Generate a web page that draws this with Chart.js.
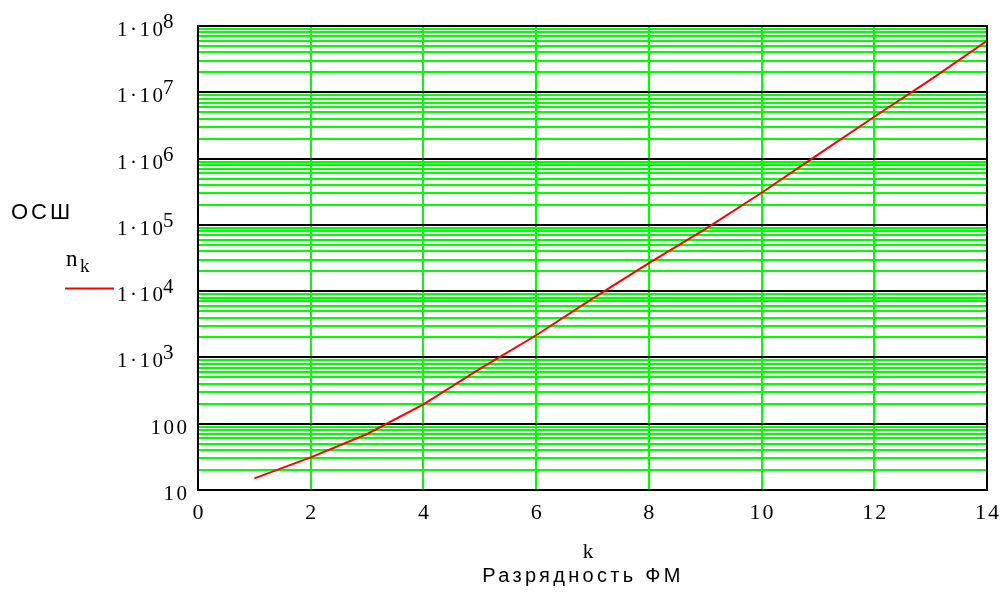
<!DOCTYPE html>
<html>
<head>
<meta charset="utf-8">
<script src="https://cdn.jsdelivr.net/npm/chart.js@4/dist/chart.umd.min.js"></script>
<style>
  body { margin: 0; background: #fff; }
  canvas { display: block; }
</style>
</head>
<body>
<canvas id="oshChart" width="1007" height="594"></canvas>
<script>
// Data
const kValues = [1, 2, 3, 4, 5, 6, 7, 8, 9, 10, 11, 12, 13, 14];
const oshValues = [15, 31, 70, 196, 670, 2160, 7700, 26400, 86000, 305000, 1150000, 4270000, 15500000, 60000000];

// Axis ticks
const xTicks = [0, 2, 4, 6, 8, 10, 12, 14];
const yDecades = [10, 100, 1e3, 1e4, 1e5, 1e6, 1e7, 1e8];
const yTickLabels = ['10', '100', '1·10^3', '1·10^4', '1·10^5', '1·10^6', '1·10^7', '1·10^8'];

const GREEN = '#00ff00';
const SERIF = '"Liberation Serif", "Times New Roman", serif';
const SANS = '"Liberation Sans", Arial, sans-serif';

// grid values: 1..9 in every decade
function buildYGrid() {
    const out = [];
    for (let i = 0; i < yDecades.length - 1; i++) {
        for (let m = 1; m < 10; m++) out.push(yDecades[i] * m);
    }
    out.push(yDecades[yDecades.length - 1]);
    return out;
}

function isDecade(v) {
    const l = Math.log10(v);
    return Math.abs(l - Math.round(l)) < 1e-9;
}

// Frame, tick labels, titles and legend in Mathcad style
const mathcadDecor = {
    id: 'mathcadDecor',
    beforeDatasetsDraw(chart) {
        const { ctx, chartArea: a } = chart;
        ctx.save();
        ctx.strokeStyle = '#000';
        ctx.lineWidth = 2;
        ctx.strokeRect(a.left, a.top, a.right - a.left, a.bottom - a.top);
        ctx.restore();
    },
    afterDraw(chart) {
        const ctx = chart.ctx;
        const xs = chart.scales.x;
        const ys = chart.scales.y;
        ctx.save();
        ctx.fillStyle = '#000';
        ctx.textBaseline = 'alphabetic';

        // y tick labels
        ctx.font = '21px ' + SERIF;
        ctx.letterSpacing = '2.5px';
        yDecades.forEach((v, i) => {
            const py = ys.getPixelForValue(v);
            const label = yTickLabels[i];
            if (label.includes('^')) {
                const [base, exp] = label.split('^');
                ctx.textAlign = 'right';
                ctx.fillText(base, 165.5, py + 10);
                ctx.textAlign = 'left';
                ctx.fillText(exp, 163, py + 2);
            } else {
                ctx.textAlign = 'right';
                ctx.fillText(label, 189.5, py + 10);
            }
        });

        // x tick labels
        ctx.font = '22px ' + SERIF;
        ctx.letterSpacing = '2px';
        ctx.textAlign = 'center';
        xTicks.forEach(v => {
            ctx.fillText(String(v), xs.getPixelForValue(v) + 1, 519);
        });

        // x titles
        ctx.letterSpacing = '0px';
        ctx.font = '21px ' + SERIF;
        ctx.fillText('k', 588, 558);
        ctx.font = '20px ' + SANS;
        ctx.letterSpacing = '3.3px';
        ctx.fillText('Разрядность ФМ', 583, 582);

        // y title
        ctx.textAlign = 'left';
        ctx.font = '22px ' + SANS;
        ctx.letterSpacing = '3px';
        ctx.fillText('ОСШ', 11, 219);

        // legend
        ctx.letterSpacing = '0px';
        ctx.font = '23px ' + SERIF;
        ctx.fillText('n', 66, 266);
        ctx.font = '19px ' + SERIF;
        ctx.fillText('k', 80, 272);
        ctx.strokeStyle = '#ff0000';
        ctx.lineWidth = 1.8;
        ctx.beginPath();
        ctx.moveTo(65, 288.5);
        ctx.lineTo(114, 288.5);
        ctx.stroke();
        ctx.restore();
    }
};

const ctx = document.getElementById('oshChart').getContext('2d');
new Chart(ctx, {
    type: 'line',
    data: {
        datasets: [{
            label: 'n_k',
            data: kValues.map((k, i) => ({ x: k, y: oshValues[i] })),
            borderColor: '#ff0000',
            borderWidth: 2,
            pointRadius: 0,
            tension: 0,
            fill: false
        }]
    },
    options: {
        responsive: false,
        animation: false,
        devicePixelRatio: 1,
        layout: { padding: { left: 198, right: 20, top: 26, bottom: 104 } },
        plugins: {
            legend: { display: false },
            tooltip: { enabled: false }
        },
        scales: {
            x: {
                type: 'linear',
                min: 0,
                max: 14,
                ticks: { display: false, stepSize: 2 },
                border: { display: false },
                grid: { color: GREEN, lineWidth: 2, drawTicks: false },
                afterFit(scale) { scale.height = 0; }
            },
            y: {
                type: 'logarithmic',
                min: 10,
                max: 1e8,
                ticks: { display: false },
                border: { display: false },
                grid: {
                    drawTicks: false,
                    lineWidth: 2,
                    color: c => isDecade(c.tick.value) ? '#000' : GREEN
                },
                afterBuildTicks(scale) {
                    scale.ticks = buildYGrid().map(v => ({ value: v }));
                },
                afterFit(scale) { scale.width = 0; }
            }
        }
    },
    plugins: [mathcadDecor]
});
</script>
</body>
</html>
